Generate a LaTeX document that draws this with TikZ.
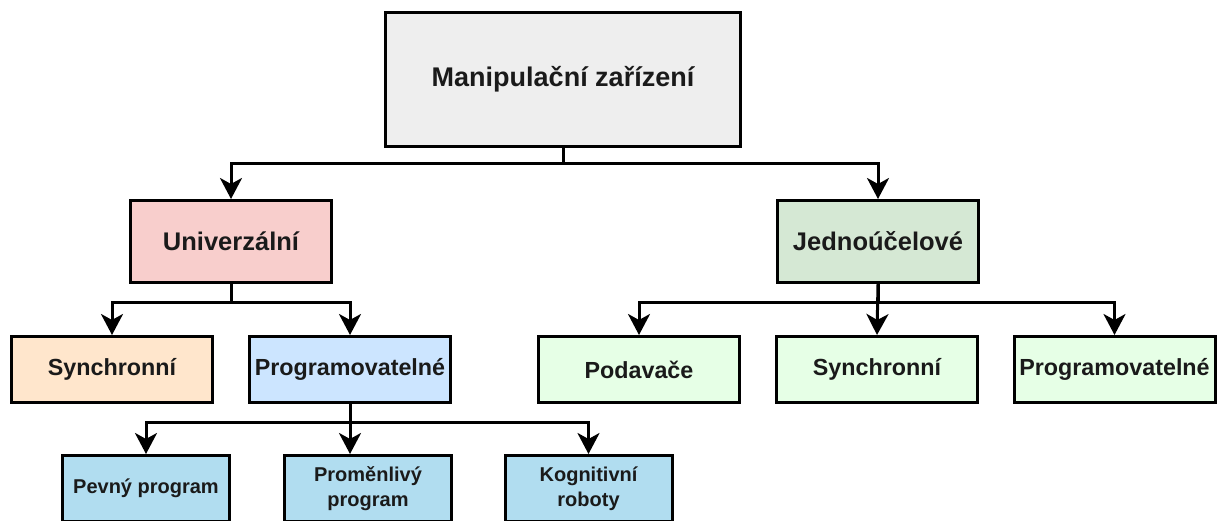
\documentclass[tikz,border=0pt]{standalone}
\usepackage{fontspec}
\setmainfont{Liberation Sans}
\usetikzlibrary{arrows.meta}

\definecolor{topfill}{HTML}{EEEEEE}
\definecolor{unifill}{HTML}{F8CECC}
\definecolor{jedfill}{HTML}{D5E8D4}
\definecolor{syncfill}{HTML}{FFE6CC}
\definecolor{progfill}{HTML}{CCE5FF}
\definecolor{lgreen}{HTML}{E6FFE6}
\definecolor{leaffill}{HTML}{B1DDF0}
\definecolor{ink}{HTML}{1A1A1A}

\tikzset{
  box/.style={draw=black, line width=3pt, rectangle, inner sep=0pt,
              text=ink, font=\bfseries, align=center},
  bigbox/.style={box, minimum width=355pt, minimum height=134pt,
                 font=\bfseries\fontsize{27}{32}\selectfont},
  midbox/.style={box, minimum width=201pt, minimum height=82pt,
                 font=\bfseries\fontsize{25.5}{30}\selectfont},
  smallbox/.style={box, minimum width=201pt, minimum height=66pt,
                   font=\bfseries\fontsize{23.3}{28}\selectfont},
  leafbox/.style={box, minimum width=167pt, minimum height=66pt,
                  font=\bfseries\fontsize{20}{25}\selectfont},
  link/.style={draw=black, line width=3pt,
               -{Stealth[length=21pt, width=22pt, inset=6pt]}},
}

\begin{document}
\begin{tikzpicture}[x=1pt, y=-1pt]
  \clip (0,0) rectangle (1217,521);

  % hierarchy boxes
  \node[bigbox, fill=topfill] (top) at (563,79.5) {Manipulační zařízení};

  \node[midbox, fill=unifill] (uni) at (231,241.5) {Univerzální};
  \node[midbox, fill=jedfill] (jed) at (878,241.5) {Jednoúčelové};

  \node[smallbox, fill=syncfill] (syncL) at (112,369.5) {Synchronní};
  \node[smallbox, fill=progfill] (progL) at (350,369.5) {Programovatelné};
  \node[smallbox, fill=lgreen]   (pod)   at (639,369.5) {Podavače};
  \node[smallbox, fill=lgreen]   (syncR) at (877,369.5) {Synchronní};
  \node[smallbox, fill=lgreen]   (progR) at (1114.5,369.5) {Programovatelné};

  \node[leafbox, fill=leaffill] (pev) at (146,488.5) {Pevný program};
  \node[leafbox, fill=leaffill] (prom) at (368,488.5) {Proměnlivý\\program};
  \node[leafbox, fill=leaffill] (kog) at (588.5,488.5) {Kognitivní\\roboty};

  % tree connectors
  \draw[link] (top.south) -- ++(0,16) -| (uni.north);
  \draw[link] (top.south) -- ++(0,16) -| (jed.north);

  \draw[link] (uni.south) -- ++(0,18) -| (syncL.north);
  \draw[link] (uni.south) -- ++(0,18) -| (progL.north);

  \draw[link] (jed.south) -- ++(0,18) -| (pod.north);
  \draw[link] (jed.south) -- (syncR.north);
  \draw[link] (jed.south) -- ++(0,18) -| (progR.north);

  \coordinate (promin) at (progL.south |- prom.north);
  \draw[link] (progL.south) -- ++(0,18) -| (pev.north);
  \draw[link] (progL.south) -- (promin);
  \draw[link] (progL.south) -- ++(0,18) -| (kog.north);
\end{tikzpicture}
\end{document}
